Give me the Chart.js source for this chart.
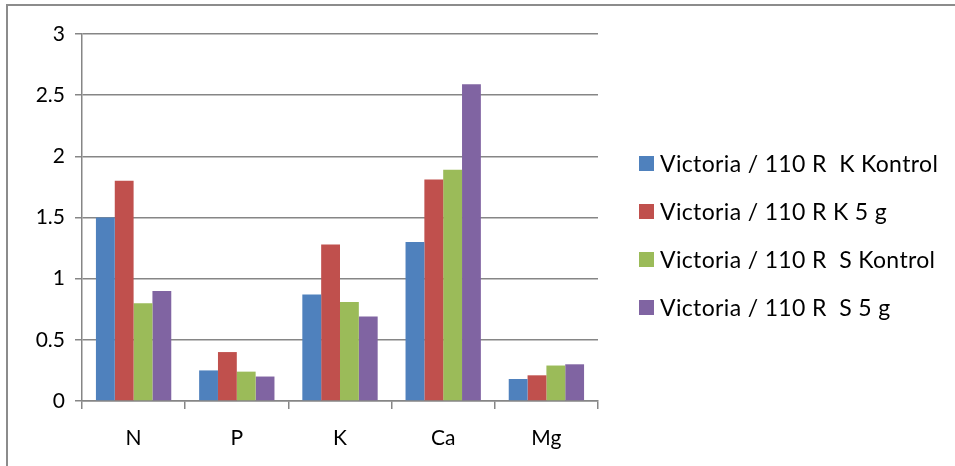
<!DOCTYPE html>
<html>
<head>
<meta charset="utf-8">
<script src="https://cdn.jsdelivr.net/npm/chart.js@4.4.1/dist/chart.umd.min.js"></script>
<style>
  html, body { margin: 0; padding: 0; background: #fff; }
  #wrap { position: relative; width: 955px; height: 466px; overflow: hidden; }
  #frame { position: absolute; left: 6px; top: 4px; right: -4px; bottom: -4px;
           border-top: 2px solid #8c8c8c; border-left: 2px solid #8c8c8c; pointer-events: none; }
  canvas { position: absolute; left: 0; top: 0; }
  #legend { position: absolute; left: 639px; top: 139px; margin: 0; padding: 0; list-style: none;
            font-family: Lato, Calibri, Carlito, sans-serif; font-size: 23px; letter-spacing: 0.35px; color: #000; }
  #legend li { height: 48px; display: flex; align-items: center; white-space: pre; }
  #legend span.box { display: inline-block; width: 15px; height: 15px; margin-right: 6px; }
</style>
</head>
<body>
<div id="wrap">
  <canvas id="c" width="955" height="466"></canvas>
  <ul id="legend"></ul>
  <div id="frame"></div>
</div>
<script>
// Nutrient categories
const categories = ['N', 'P', 'K', 'Ca', 'Mg'];

// Series values per nutrient
const kKontrol = [1.50, 0.25, 0.87, 1.30, 0.18];
const k5g      = [1.80, 0.40, 1.28, 1.81, 0.21];
const sKontrol = [0.80, 0.24, 0.81, 1.89, 0.29];
const s5g      = [0.90, 0.20, 0.69, 2.59, 0.30];

const seriesNames = [
  'Victoria / 110 R  K Kontrol',
  'Victoria / 110 R K 5 g',
  'Victoria / 110 R  S Kontrol',
  'Victoria / 110 R  S 5 g'
];
const seriesColors = ['#4F81BD', '#C0504D', '#9BBB59', '#8064A2'];
const seriesValues = [kKontrol, k5g, sKontrol, s5g];

// Y axis ticks
const yTicks = [0, 0.5, 1, 1.5, 2, 2.5, 3];

const FONT = 'Lato, Calibri, Carlito, sans-serif';

const chart = new Chart(document.getElementById('c'), {
  type: 'bar',
  data: {
    labels: categories,
    datasets: seriesValues.map((vals, i) => ({
      label: seriesNames[i],
      data: vals,
      backgroundColor: seriesColors[i],
      borderWidth: 0,
      categoryPercentage: 0.73,
      barPercentage: 1.0
    }))
  },
  options: {
    responsive: false,
    animation: false,
    devicePixelRatio: 1,
    layout: { padding: { left: 0, top: 34, right: 357, bottom: 0 } },
    plugins: {
      tooltip: { enabled: false },
      legend: { display: false }
    },
    scales: {
      x: {
        offset: true,
        grid: { offset: true, drawOnChartArea: false, drawTicks: true, tickLength: 8, color: '#868686', lineWidth: 1.5 },
        border: { color: '#868686', width: 1.5 },
        ticks: { color: '#000', font: { family: FONT, size: 21 }, padding: 17 },
        afterFit: (s) => { s.height = 65; }
      },
      y: {
        min: 0, max: 3,
        afterBuildTicks: (s) => { s.ticks = yTicks.map(v => ({ value: v })); },
        grid: { color: '#868686', lineWidth: 1.5, tickLength: 7 },
        border: { color: '#868686', width: 1.5 },
        ticks: { color: '#000', font: { family: FONT, size: 21 }, padding: 10,
                 callback: (v) => String(v) },
        afterFit: (s) => { s.width = 82; }
      }
    }
  }
});

// Legend built from the chart's datasets
const legendEl = document.getElementById('legend');
chart.data.datasets.forEach((ds) => {
  const li = document.createElement('li');
  const box = document.createElement('span');
  box.className = 'box';
  box.style.background = ds.backgroundColor;
  li.appendChild(box);
  li.appendChild(document.createTextNode(ds.label));
  legendEl.appendChild(li);
});
</script>
</body>
</html>
